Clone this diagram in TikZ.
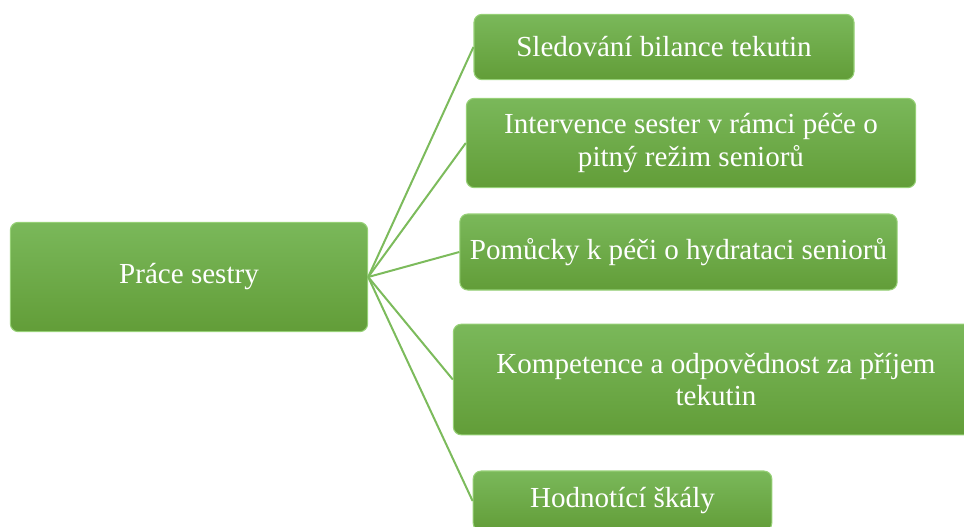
\documentclass[tikz,border=0pt]{standalone}
\usepackage{fontspec}
\setmainfont{Liberation Serif}
\definecolor{boxtop}{RGB}{122,184,90}
\definecolor{boxbot}{RGB}{98,157,56}
\definecolor{boxedge}{RGB}{150,208,118}
\definecolor{linkgreen}{RGB}{124,187,92}
\tikzset{
	topic/.style={rounded corners=6pt, top color=boxtop, bottom color=boxbot, draw=boxedge, line width=0.8pt, text=white, inner sep=0pt, align=center, font=\fontsize{21.8}{24.5}\selectfont},
	link/.style={draw=linkgreen, line width=1.5pt}
}
\begin{document}
\begin{tikzpicture}[x=0.75pt,y=-0.75pt]
	\useasboundingbox (0,0) rectangle (964,526);
	\node[topic, minimum width=268pt, minimum height=82pt] (sestra) at (189,277) {Práce sestry};
	\node[topic, minimum width=285pt, minimum height=49pt] (bilance) at (664,47) {Sledování bilance tekutin};
	\node[topic, minimum width=337pt, minimum height=67pt] (intervence) at (691,143) {Intervence sester v rámci péče o\\pitný režim seniorů};
	\node[topic, minimum width=328pt, minimum height=57pt] (pomucky) at (678.5,252) {Pomůcky k péči o hydrataci seniorů};
	\node[topic, minimum width=394pt, minimum height=83pt] (kompetence) at (716,379.5) {Kompetence a odpovědnost za příjem\\tekutin};
	\node[topic, minimum width=224pt, minimum height=45pt] (skaly) at (622.5,501) {Hodnotící škály};
	\draw[link] (sestra.east) -- (bilance.west);
	\draw[link] (sestra.east) -- (intervence.west);
	\draw[link] (sestra.east) -- (pomucky.west);
	\draw[link] (sestra.east) -- (kompetence.west);
	\draw[link] (sestra.east) -- (skaly.west);
\end{tikzpicture}
\end{document}
